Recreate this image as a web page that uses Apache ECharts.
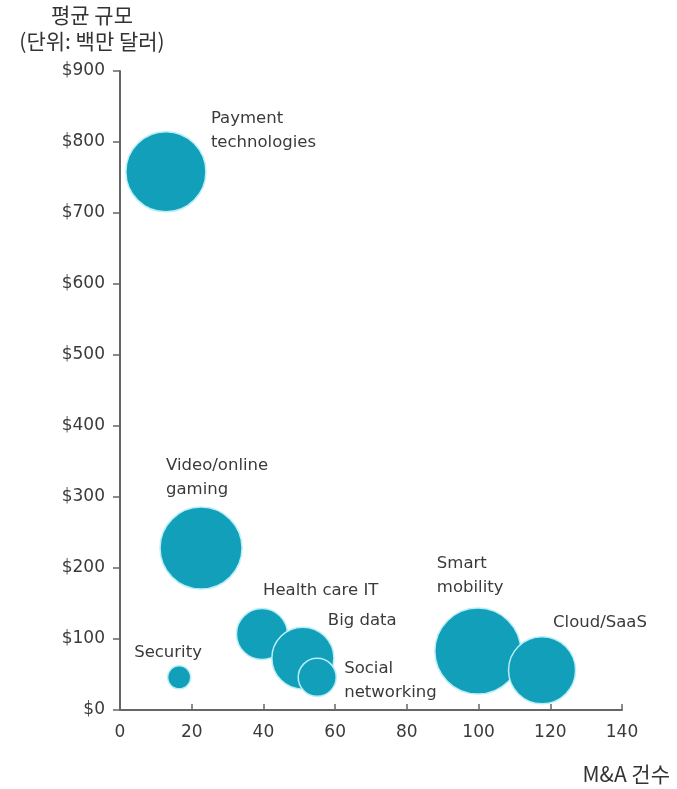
<!DOCTYPE html>
<html><head><meta charset="utf-8">
<script src="https://cdn.jsdelivr.net/npm/echarts@6/dist/echarts.min.js"></script>
<style>html,body{margin:0;padding:0;background:#fff}#c{width:677px;height:789px}</style>
</head><body><div id="c"></div>
<script>
const categories = ['Payment\ntechnologies','Video/online\ngaming','Security','Health care IT','Big data','Social\nnetworking','Smart\nmobility','Cloud/SaaS'];
const dealCounts = [12.8, 22.6, 16.5, 39.6, 51.0, 55.0, 99.8, 117.7];
const avgSizes = [758, 228, 46, 107, 73, 46, 83, 56];
const bubbleSizes = [80, 82, 23, 51, 62, 38, 86, 67];
const xTicks = [0, 20, 40, 60, 80, 100, 120, 140];
const yTicks = [0, 100, 200, 300, 400, 500, 600, 700, 800, 900];

const labelOffsets = [[45,-41],[-35,-70],[-45,-25],[1,-43],[25,-37],[27,3],[-41,-75],[11,-48]];
const font = 'DejaVu Sans';
const chart = echarts.init(document.getElementById('c'));
const data = categories.map((c,i)=>({
  name: c,
  value: [dealCounts[i], avgSizes[i], bubbleSizes[i]],
  label: {offset: labelOffsets[i]}
}));
chart.setOption({
  animation: false,
  title: [
    {text: '평균 규모\n(단위: 백만 달러)', left: 87, top: -3, textAlign: 'center',
     textStyle: {fontFamily: 'Noto Sans CJK KR', fontSize: 21, fontWeight: 'normal', color: '#333', lineHeight: 26}},
    {text: 'M&A 건수', right: 2, top: 759,
     textStyle: {fontFamily: 'Noto Sans CJK KR', fontSize: 21, fontWeight: 'normal', color: '#333'}}
  ],
  grid: {left: 120, right: 55, top: 71, bottom: 79},
  xAxis: {
    type: 'value', min: xTicks[0], max: xTicks[xTicks.length-1], interval: 20,
    splitLine: {show: false},
    axisLine: {lineStyle: {color: '#666', width: 2}},
    axisTick: {inside: true, length: 6, lineStyle: {color: '#666', width: 1.5}},
    axisLabel: {fontFamily: font, fontSize: 17, color: '#3a3a3a', margin: 14}
  },
  yAxis: {
    type: 'value', min: yTicks[0], max: yTicks[yTicks.length-1], interval: 100,
    splitLine: {show: false},
    axisLine: {show: true, lineStyle: {color: '#666', width: 2}},
    axisTick: {show: true, length: 7, lineStyle: {color: '#666', width: 1.5}},
    axisLabel: {fontFamily: font, fontSize: 17, color: '#3a3a3a', margin: 15, formatter: v => '$' + v}
  },
  series: [{
    type: 'scatter',
    data: data,
    symbolSize: v => v[2],
    itemStyle: {color: '#129fba', borderColor: '#b8eef6', borderWidth: 1.5, opacity: 1},
    label: {show: true, position: 'inside', align: 'left', verticalAlign: 'middle',
      formatter: p => p.name, fontFamily: font, fontSize: 16.5, color: '#3a3a3a', lineHeight: 24}
  }]
});
</script></body></html>
